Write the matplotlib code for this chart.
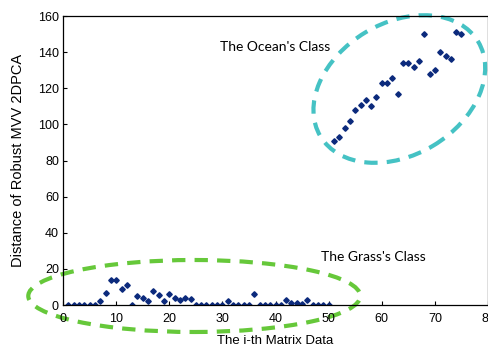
import matplotlib
matplotlib.use("Agg")
import matplotlib.pyplot as plt
from matplotlib.patches import Ellipse
from matplotlib.transforms import ScaledTranslation

plt.rcParams['font.family'] = ['Liberation Sans', 'DejaVu Sans']

# distance of each matrix sample (index 1..75)
grass_idx = list(range(1, 51))
grass_dist = [0, 0, 0, 0, 0, 0, 2, 6.5, 14, 14,
              9, 11, 0, 5, 4, 2, 8, 5.5, 2, 6,
              4, 3, 4, 3.5, 0, 0, 0, 0, 0, 0,
              2, 0, 0, 0, 0, 6, 0, 0, 0, 0,
              0, 3, 1.2, 1, 0.5, 3, 0, 0, 0, 0]

ocean_idx = list(range(51, 76))
ocean_dist = [91, 93, 98, 102, 108, 111, 113.5, 110, 115, 123,
              123, 125.5, 117, 134, 134, 132, 135, 150, 128, 130,
              140, 138, 136, 151, 150]

xticks = [0, 10, 20, 30, 40, 50, 60, 70, 80]
yticks = [0, 20, 40, 60, 80, 100, 120, 140, 160]

fig = plt.figure(figsize=(4.89, 3.49), dpi=100)
ax = fig.add_axes([0.129, 0.126, 0.869, 0.828])

dot = '#0b2a7c'
ax.plot(grass_idx, grass_dist, 'D', color=dot, ms=2.8, mec=dot)
ax.plot(ocean_idx, ocean_dist, 'D', color=dot, ms=2.8, mec=dot)

ax.set_xlim(0, 80)
ax.set_ylim(0, 160)
ax.set_xticks(xticks)
ax.set_yticks(yticks)
ax.tick_params(axis='both', direction='in', length=3, width=0.8, labelsize=9)
ax.tick_params(axis='x', pad=6)
ax.tick_params(axis='y', pad=3)
for s in ax.spines.values():
    s.set_linewidth(0.9)

ax.set_xlabel('The i-th Matrix Data', fontsize=9.5, labelpad=7)
ax.set_ylabel('Distance of Robust MVV 2DPCA', fontsize=10.5, labelpad=9)

# class outlines, sized in inches and centred on data positions
def outline(cx, cy, w, h, ang, col):
    tr = fig.dpi_scale_trans + ScaledTranslation(cx, cy, ax.transData)
    e = Ellipse((0, 0), w, h, angle=ang, transform=tr, fill=False,
                edgecolor=col, lw=3, linestyle=(0, (3.2, 2.2)), clip_on=False)
    ax.add_patch(e)

outline(24.7, 5.0, 3.32, 0.72, 0, '#66c83a')
outline(63.3, 119.6, 1.84, 1.32, 31, '#45c2c4')

ax.text(39.9, 142.9, "The Ocean's Class", fontsize=10, family=['Lato', 'DejaVu Sans'],
        ha='center', va='center')
ax.text(58.4, 26.6, "The Grass's Class", fontsize=10, family=['Lato', 'DejaVu Sans'],
        ha='center', va='center')

fig.savefig('out.png', dpi=100, facecolor='white')
